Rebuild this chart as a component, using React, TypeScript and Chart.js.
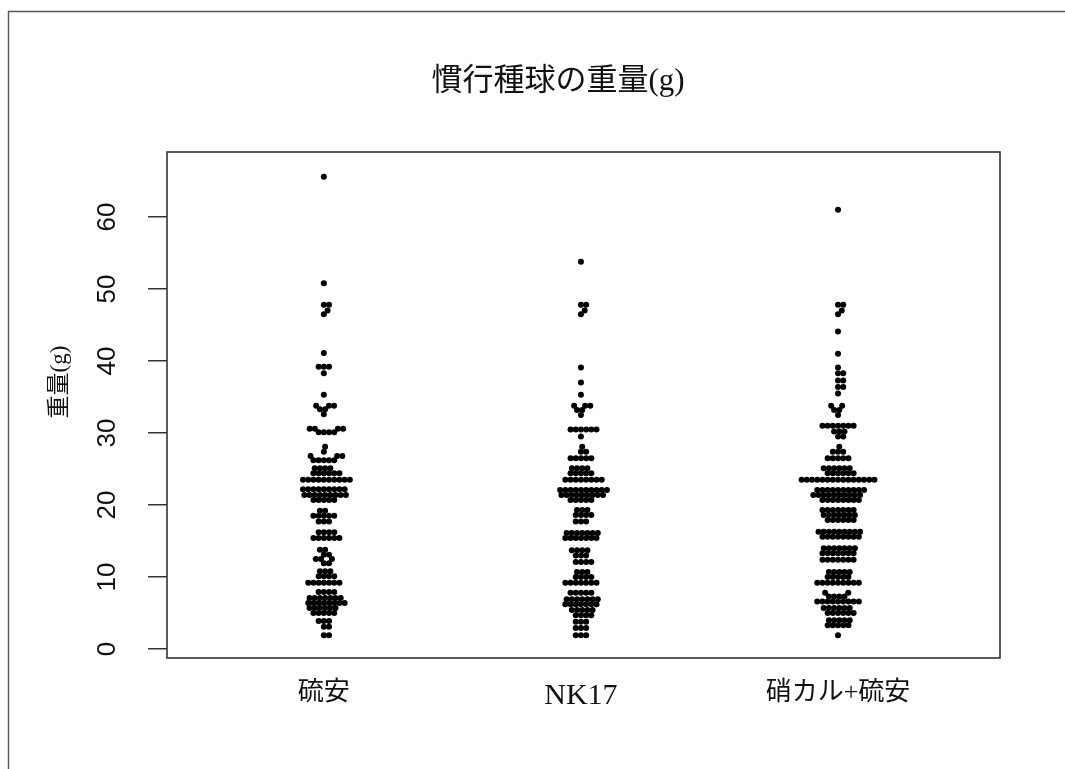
import React, { useEffect, useRef } from 'react';
import { Chart, registerables } from 'chart.js';

Chart.register(...registerables);

// ---------- text ----------
const chartTitle = '慣行種球の重量(g)';
const yAxisTitle = '重量(g)';
const categories = ['硫安', 'NK17', '硝カル+硫安'];
const yTickValues = [0, 10, 20, 30, 40, 50, 60];

// ---------- data (bulb weight in g, as value levels with their frequency) ----------
// 硫安
const ryuanLevels = [65.6, 50.8, 47.8, 47.0, 46.5, 41.1, 39.2, 38.3, 35.3, 33.8, 33.3, 32.6, 30.6, 30.1, 28.1, 27.4, 26.8, 26.2, 25.1, 24.4, 23.5, 22.2, 21.4, 20.7, 19.2, 18.5, 17.7, 16.2, 15.4, 13.8, 13.1, 12.5, 11.9, 10.8, 10.1, 9.2, 7.9, 7.1, 6.4, 5.7, 5.0, 3.9, 3.1, 1.9];
const ryuanCounts = [1, 1, 2, 1, 1, 1, 3, 1, 1, 3, 2, 1, 4, 4, 1, 1, 3, 5, 4, 6, 10, 9, 9, 5, 2, 5, 3, 4, 6, 2, 2, 3, 2, 3, 4, 7, 4, 7, 8, 6, 5, 3, 2, 2];

// NK17
const nk17Levels = [53.8, 47.8, 47.0, 46.5, 39.1, 37.0, 35.3, 33.8, 33.2, 32.5, 30.5, 29.5, 28.1, 27.4, 26.5, 25.1, 24.4, 23.5, 22.1, 21.4, 20.7, 19.3, 18.6, 17.7, 16.1, 15.4, 13.7, 13.0, 12.1, 10.7, 10.0, 9.2, 7.8, 6.9, 6.2, 5.4, 4.7, 3.8, 2.9, 1.9];
const nk17Counts = [1, 2, 1, 1, 1, 1, 1, 3, 2, 1, 6, 1, 1, 2, 5, 4, 5, 8, 10, 9, 5, 3, 4, 3, 7, 7, 4, 3, 4, 3, 4, 7, 5, 7, 7, 5, 4, 3, 3, 3];

// 硝カル+硫安
const shokaruLevels = [61.0, 47.8, 47.0, 46.5, 44.1, 41.0, 39.1, 38.3, 37.3, 36.4, 35.5, 33.8, 33.2, 32.5, 31.0, 30.2, 29.5, 28.1, 27.4, 26.5, 25.1, 24.4, 23.5, 22.1, 21.4, 20.7, 19.3, 18.6, 17.9, 16.3, 15.6, 14.0, 13.3, 12.4, 10.7, 10.0, 9.2, 7.8, 7.3, 6.6, 5.7, 5.0, 4.0, 3.3, 1.9];
const shokaruCounts = [1, 2, 1, 1, 1, 1, 1, 2, 2, 2, 1, 2, 2, 1, 7, 3, 2, 1, 3, 5, 6, 6, 15, 10, 10, 8, 7, 7, 6, 9, 8, 7, 7, 7, 5, 5, 9, 2, 4, 9, 6, 6, 5, 5, 1];

const groupLevels = [ryuanLevels, nk17Levels, shokaruLevels];
const groupCounts = [ryuanCounts, nk17Counts, shokaruCounts];

function expand(levels: number[], counts: number[]): number[] {
  const out: number[] = [];
  levels.forEach((v, i) => {
    for (let k = 0; k < counts[i]; k++) out.push(v);
  });
  return out.sort((a, b) => a - b);
}

// beeswarm "swarm" layout in pixel space
function swarmOffsets(ysPx: number[], d: number): number[] {
  const placed: { x: number; y: number }[] = [];
  const res: number[] = [];
  for (const y of ysPx) {
    const near = placed.filter((p) => Math.abs(p.y - y) < d);
    const cands: number[] = [0];
    for (const p of near) cands.push(p.x + Math.sqrt(d * d - (p.y - y) ** 2));
    for (const p of near) cands.push(p.x - Math.sqrt(d * d - (p.y - y) ** 2));
    let best = Infinity;
    for (const c of cands) {
      if (Math.abs(c) >= Math.abs(best)) continue;
      const ok = near.every((p) => (p.x - c) ** 2 + (p.y - y) ** 2 >= d * d - 1e-6);
      if (ok) best = c;
    }
    placed.push({ x: best, y });
    res.push(best);
  }
  return res;
}

const SERIF = '"Liberation Serif", "Noto Sans CJK JP", serif';
const SANS = '"Liberation Sans", Arial, sans-serif';

const framePlugin = {
  id: 'framePlugin',
  afterDraw(chart: any) {
    const { ctx, chartArea: ca } = chart;
    ctx.save();
    ctx.strokeStyle = '#333';
    ctx.lineWidth = 1.6;
    ctx.strokeRect(ca.left, ca.top, ca.right - ca.left, ca.bottom - ca.top);
    ctx.strokeStyle = '#555';
    ctx.lineWidth = 1.4;
    ctx.beginPath();
    ctx.moveTo(8.5, 769);
    ctx.lineTo(8.5, 11.5);
    ctx.lineTo(1065, 11.5);
    ctx.stroke();
    ctx.fillStyle = '#111';
    ctx.textAlign = 'center';
    ctx.textBaseline = 'middle';
    ctx.font = `31px ${SERIF}`;
    ctx.fillText(chartTitle, 558, 82);
    ctx.translate(60, 382);
    ctx.rotate(-Math.PI / 2);
    ctx.font = `23px ${SERIF}`;
    ctx.fillText(yAxisTitle, 0, 0);
    ctx.restore();
  },
};

export default function App() {
  const ref = useRef<HTMLCanvasElement>(null);
  useEffect(() => {
    if (!ref.current) return;
    const chart = new Chart(ref.current, {
      type: 'scatter',
      data: {
        datasets: categories.map((name) => ({
          label: name,
          data: [] as { x: number; y: number }[],
          pointRadius: 3.0,
          pointHoverRadius: 3.0,
          backgroundColor: '#000',
          borderColor: '#000',
          borderWidth: 0,
        })),
      },
      options: {
        responsive: false,
        animation: false,
        devicePixelRatio: 1,
        events: [],
        layout: { padding: { left: 0, right: 65, top: 152, bottom: 0 } },
        plugins: { legend: { display: false }, tooltip: { enabled: false }, title: { display: false } },
        scales: {
          x: {
            type: 'linear',
            min: 0.39,
            max: 3.63,
            afterFit: (s: any) => { s.height = 111; },
            afterBuildTicks: (s: any) => { s.ticks = categories.map((_, i) => ({ value: i + 1 })); },
            grid: { display: false, drawTicks: false },
            border: { display: false },
            ticks: {
              autoSkip: false,
              minRotation: 0,
              maxRotation: 0,
              padding: 20,
              color: '#111',
              callback: (v: any) => categories[Math.round(Number(v)) - 1],
              font: (c: any) => (c.tick && c.tick.value === 2 ? { family: SERIF, size: 30 } : { family: SERIF, size: 26 }),
            },
          },
          y: {
            type: 'linear',
            min: -1.25,
            max: 69.03,
            afterFit: (s: any) => { s.width = 167; },
            afterBuildTicks: (s: any) => { s.ticks = yTickValues.map((v) => ({ value: v })); },
            grid: { drawOnChartArea: false, drawTicks: true, tickLength: 19, color: '#333', lineWidth: 1.5 },
            border: { display: false },
            ticks: {
              minRotation: 90,
              maxRotation: 90,
              crossAlign: 'center',
              padding: 26,
              color: '#111',
              font: { family: SANS, size: 26 },
            },
          },
        },
      },
      plugins: [framePlugin],
    } as any);

    const xs = chart.scales.x;
    const ys = chart.scales.y;
    const pxPerX = xs.getPixelForValue(2) - xs.getPixelForValue(1);
    const pxPerY = ys.getPixelForValue(0) - ys.getPixelForValue(1);
    const D = 5.2;
    groupLevels.forEach((levels, g) => {
      const vals = expand(levels, groupCounts[g]);
      const offs = swarmOffsets(vals.map((v) => v * pxPerY), D);
      chart.data.datasets[g].data = vals.map((v, i) => ({ x: g + 1 + offs[i] / pxPerX, y: v }));
    });
    chart.update('none');
    return () => chart.destroy();
  }, []);
  return (
    <div style={{ position: 'fixed', left: 0, top: 0, width: 1065, height: 769, background: '#fff' }}>
      <canvas ref={ref} width={1065} height={769} style={{ display: 'block' }} />
    </div>
  );
}
